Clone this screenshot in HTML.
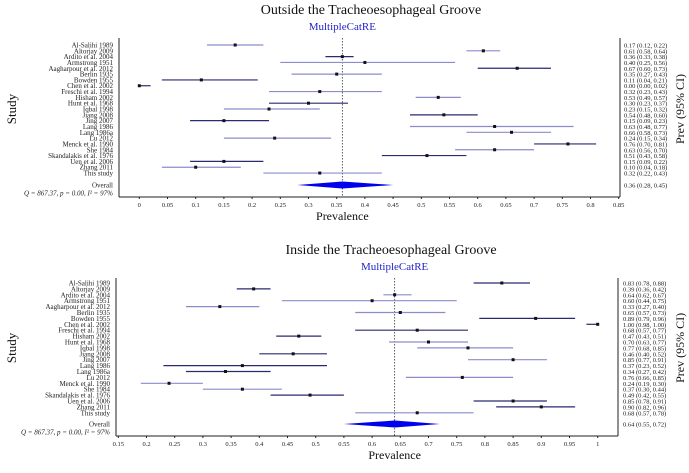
<!DOCTYPE html>
<html><head><meta charset="utf-8"><style>
body{margin:0;background:#fff;}
svg{display:block;font-family:"Liberation Serif",serif;}
</style></head><body>
<svg id="chart" width="689" height="473" viewBox="0 0 689 473"></svg>
<script>
const studies = ["Al-Salihi 1989","Altorjay 2009","Ardito et al. 2004","Armstrong 1951","Aagharpour et al. 2012","Berlin 1935","Bowden 1955","Chen et al. 2002","Freschi et al. 1994","Hisham 2002","Hunt et al. 1968","Iqbal 1998","Jiang 2008","Jing 2007","Lang 1986","Lang 1986a","Lu 2012","Menck et al. 1990","She 1984","Skandalakis et al. 1976","Uen et al. 2006","Zhang 2011","This study"];
const outEst = [0.17,0.61,0.36,0.40,0.67,0.35,0.11,0.00,0.32,0.53,0.30,0.23,0.54,0.15,0.63,0.66,0.24,0.76,0.63,0.51,0.15,0.10,0.32];
const outLo  = [0.12,0.58,0.33,0.25,0.60,0.27,0.04,0.00,0.23,0.49,0.23,0.15,0.48,0.09,0.48,0.58,0.15,0.70,0.56,0.43,0.09,0.04,0.22];
const outHi  = [0.22,0.64,0.38,0.56,0.73,0.43,0.21,0.02,0.43,0.57,0.37,0.32,0.60,0.23,0.77,0.73,0.34,0.81,0.70,0.58,0.22,0.18,0.43];
const outOverall = [0.36,0.28,0.45];
const outTicks = [0,0.05,0.1,0.15,0.2,0.25,0.3,0.35,0.4,0.45,0.5,0.55,0.6,0.65,0.7,0.75,0.8,0.85];
const outShade = [0,0,1,0,1,0,1,1,0,0,1,0,1,1,0,0,0,1,0,1,1,0,0];
const inEst = [0.83,0.39,0.64,0.60,0.33,0.65,0.89,1.00,0.68,0.47,0.70,0.77,0.46,0.85,0.37,0.34,0.76,0.24,0.37,0.49,0.85,0.90,0.68];
const inLo  = [0.78,0.36,0.62,0.44,0.27,0.57,0.79,0.98,0.57,0.43,0.63,0.68,0.40,0.77,0.23,0.27,0.66,0.19,0.30,0.42,0.78,0.82,0.57];
const inHi  = [0.88,0.42,0.67,0.75,0.40,0.73,0.96,1.00,0.77,0.51,0.77,0.85,0.52,0.91,0.52,0.42,0.85,0.30,0.44,0.55,0.91,0.96,0.78];
const inOverall = [0.64,0.55,0.72];
const inTicks = [0.15,0.2,0.25,0.3,0.35,0.4,0.45,0.5,0.55,0.6,0.65,0.7,0.75,0.8,0.85,0.9,0.95,1];
const inShade = [1,1,0,0,0,0,1,1,1,1,0,0,1,0,1,1,0,0,0,1,1,1,0];

const svg = document.getElementById('chart');
const NS = 'http://www.w3.org/2000/svg';
function mk(tag, attrs, text){const e=document.createElementNS(NS,tag);for(const k in attrs)e.setAttribute(k,attrs[k]);if(text!==undefined)e.textContent=text;svg.appendChild(e);return e;}
const f2 = v => v.toFixed(2);

function panel(p){
  const x = v => p.x0 + (v - p.vmin) * p.scale;
  const y = i => p.yFirst + i * p.step;
  let e;
  e = mk('text',{x:p.titleX,y:p.titleY,'text-anchor':'middle','font-size':14,fill:'#111'},p.title);
  
  
  e = mk('text',{x:x(p.overall[0]),y:p.titleY+16,'text-anchor':'middle','font-size':11,fill:'#2222cc'},'MultipleCatRE');
  
  
  e = mk('line',{x1:p.axL,y1:p.axTop,x2:p.axL,y2:p.axB,stroke:'#222','stroke-width':1});
  
  
  e = mk('line',{x1:p.axR,y1:p.axTop,x2:p.axR,y2:p.axB,stroke:'#222','stroke-width':1});
  
  
  e = mk('line',{x1:p.axL,y1:p.axB,x2:p.axR,y2:p.axB,stroke:'#222','stroke-width':1});
  
  
  p.ticks.forEach(t=>{
    e = mk('line',{x1:x(t),y1:p.axB,x2:x(t),y2:p.axB+2,stroke:'#222'});
    
    
    e = mk('text',{x:x(t),y:p.axB+10,'text-anchor':'middle','font-size':6.5,fill:'#222'},String(t));
    
    
  });
  e = mk('text',{x:x(p.overall[0]),y:p.axB+23,'text-anchor':'middle','font-size':12,fill:'#111'},'Prevalence');
  
  
  e = mk('text',{x:0,y:0,'text-anchor':'middle','font-size':13,fill:'#111',transform:`translate(16,${p.yFirst+11*p.step}) rotate(-90)`},'Study');
  
  
  e = mk('text',{x:0,y:0,'text-anchor':'middle','font-size':12,fill:'#111',transform:`translate(684,${p.yFirst+11*p.step}) rotate(-90)`},'Prev (95% CI)');
  
  
  e = mk('line',{x1:x(p.overall[0]),y1:p.axTop,x2:x(p.overall[0]),y2:p.axB,stroke:'#333','stroke-dasharray':'1.5,1.5','stroke-width':0.8});
  
  
  studies.forEach((s,i)=>{
    e = mk('text',{x:p.axL-6,y:y(i)+2.5,'text-anchor':'end','font-size':7,fill:'#222'},s);
    
    
    const col = p.shade[i] ? '#2a2a70' : '#8c8ccc';
    e = mk('line',{x1:x(p.lo[i]),y1:y(i),x2:x(p.hi[i]),y2:y(i),stroke:col,'stroke-width':1.2});
    
    
    e = mk('rect',{x:x(p.est[i])-1.5,y:y(i)-1.5,width:3,height:3,fill:'#111'});
    
    
    e = mk('text',{x:p.valX,y:y(i)+2.5,'font-size':6.5,fill:'#222'},`${f2(p.est[i])} (${f2(p.lo[i])}, ${f2(p.hi[i])})`);
    
    
  });
  const oy = p.overallY, o = p.overall;
  e = mk('polygon',{points:`${x(o[1])},${oy} ${x(o[0])},${oy-3.5} ${x(o[2])},${oy} ${x(o[0])},${oy+3.5}`,fill:'#0000ee'});
  
  
  e = mk('text',{x:p.axL-6,y:oy+2.5,'text-anchor':'end','font-size':7,fill:'#222'},'Overall');
  
  
  e = mk('text',{x:p.axL-6,y:oy+10.5,'text-anchor':'end','font-size':7,fill:'#222','font-style':'italic'},'Q = 867.37, p = 0.00, I² = 97%');
  
  
  e = mk('text',{x:p.valX,y:oy+2.5,'font-size':6.5,fill:'#222'},`${f2(o[0])} (${f2(o[1])}, ${f2(o[2])})`);
  
  
}

panel({id:'outside',title:'Outside the Tracheoesophageal Groove',titleX:371,titleY:14,
  x0:139.3,vmin:0,scale:564,axL:119,axR:620,axTop:38,axB:197,yFirst:45,step:5.82,overallY:185,valX:624,
  est:outEst,lo:outLo,hi:outHi,shade:outShade,overall:outOverall,ticks:outTicks});
panel({id:'inside',title:'Inside the Tracheoesophageal Groove',titleX:391,titleY:254,
  x0:118.3,vmin:0.15,scale:564,axL:116,axR:618,axTop:278,axB:436,yFirst:283,step:5.9,overallY:424,valX:623,
  est:inEst,lo:inLo,hi:inHi,shade:inShade,overall:inOverall,ticks:inTicks});
</script>
</body></html>
